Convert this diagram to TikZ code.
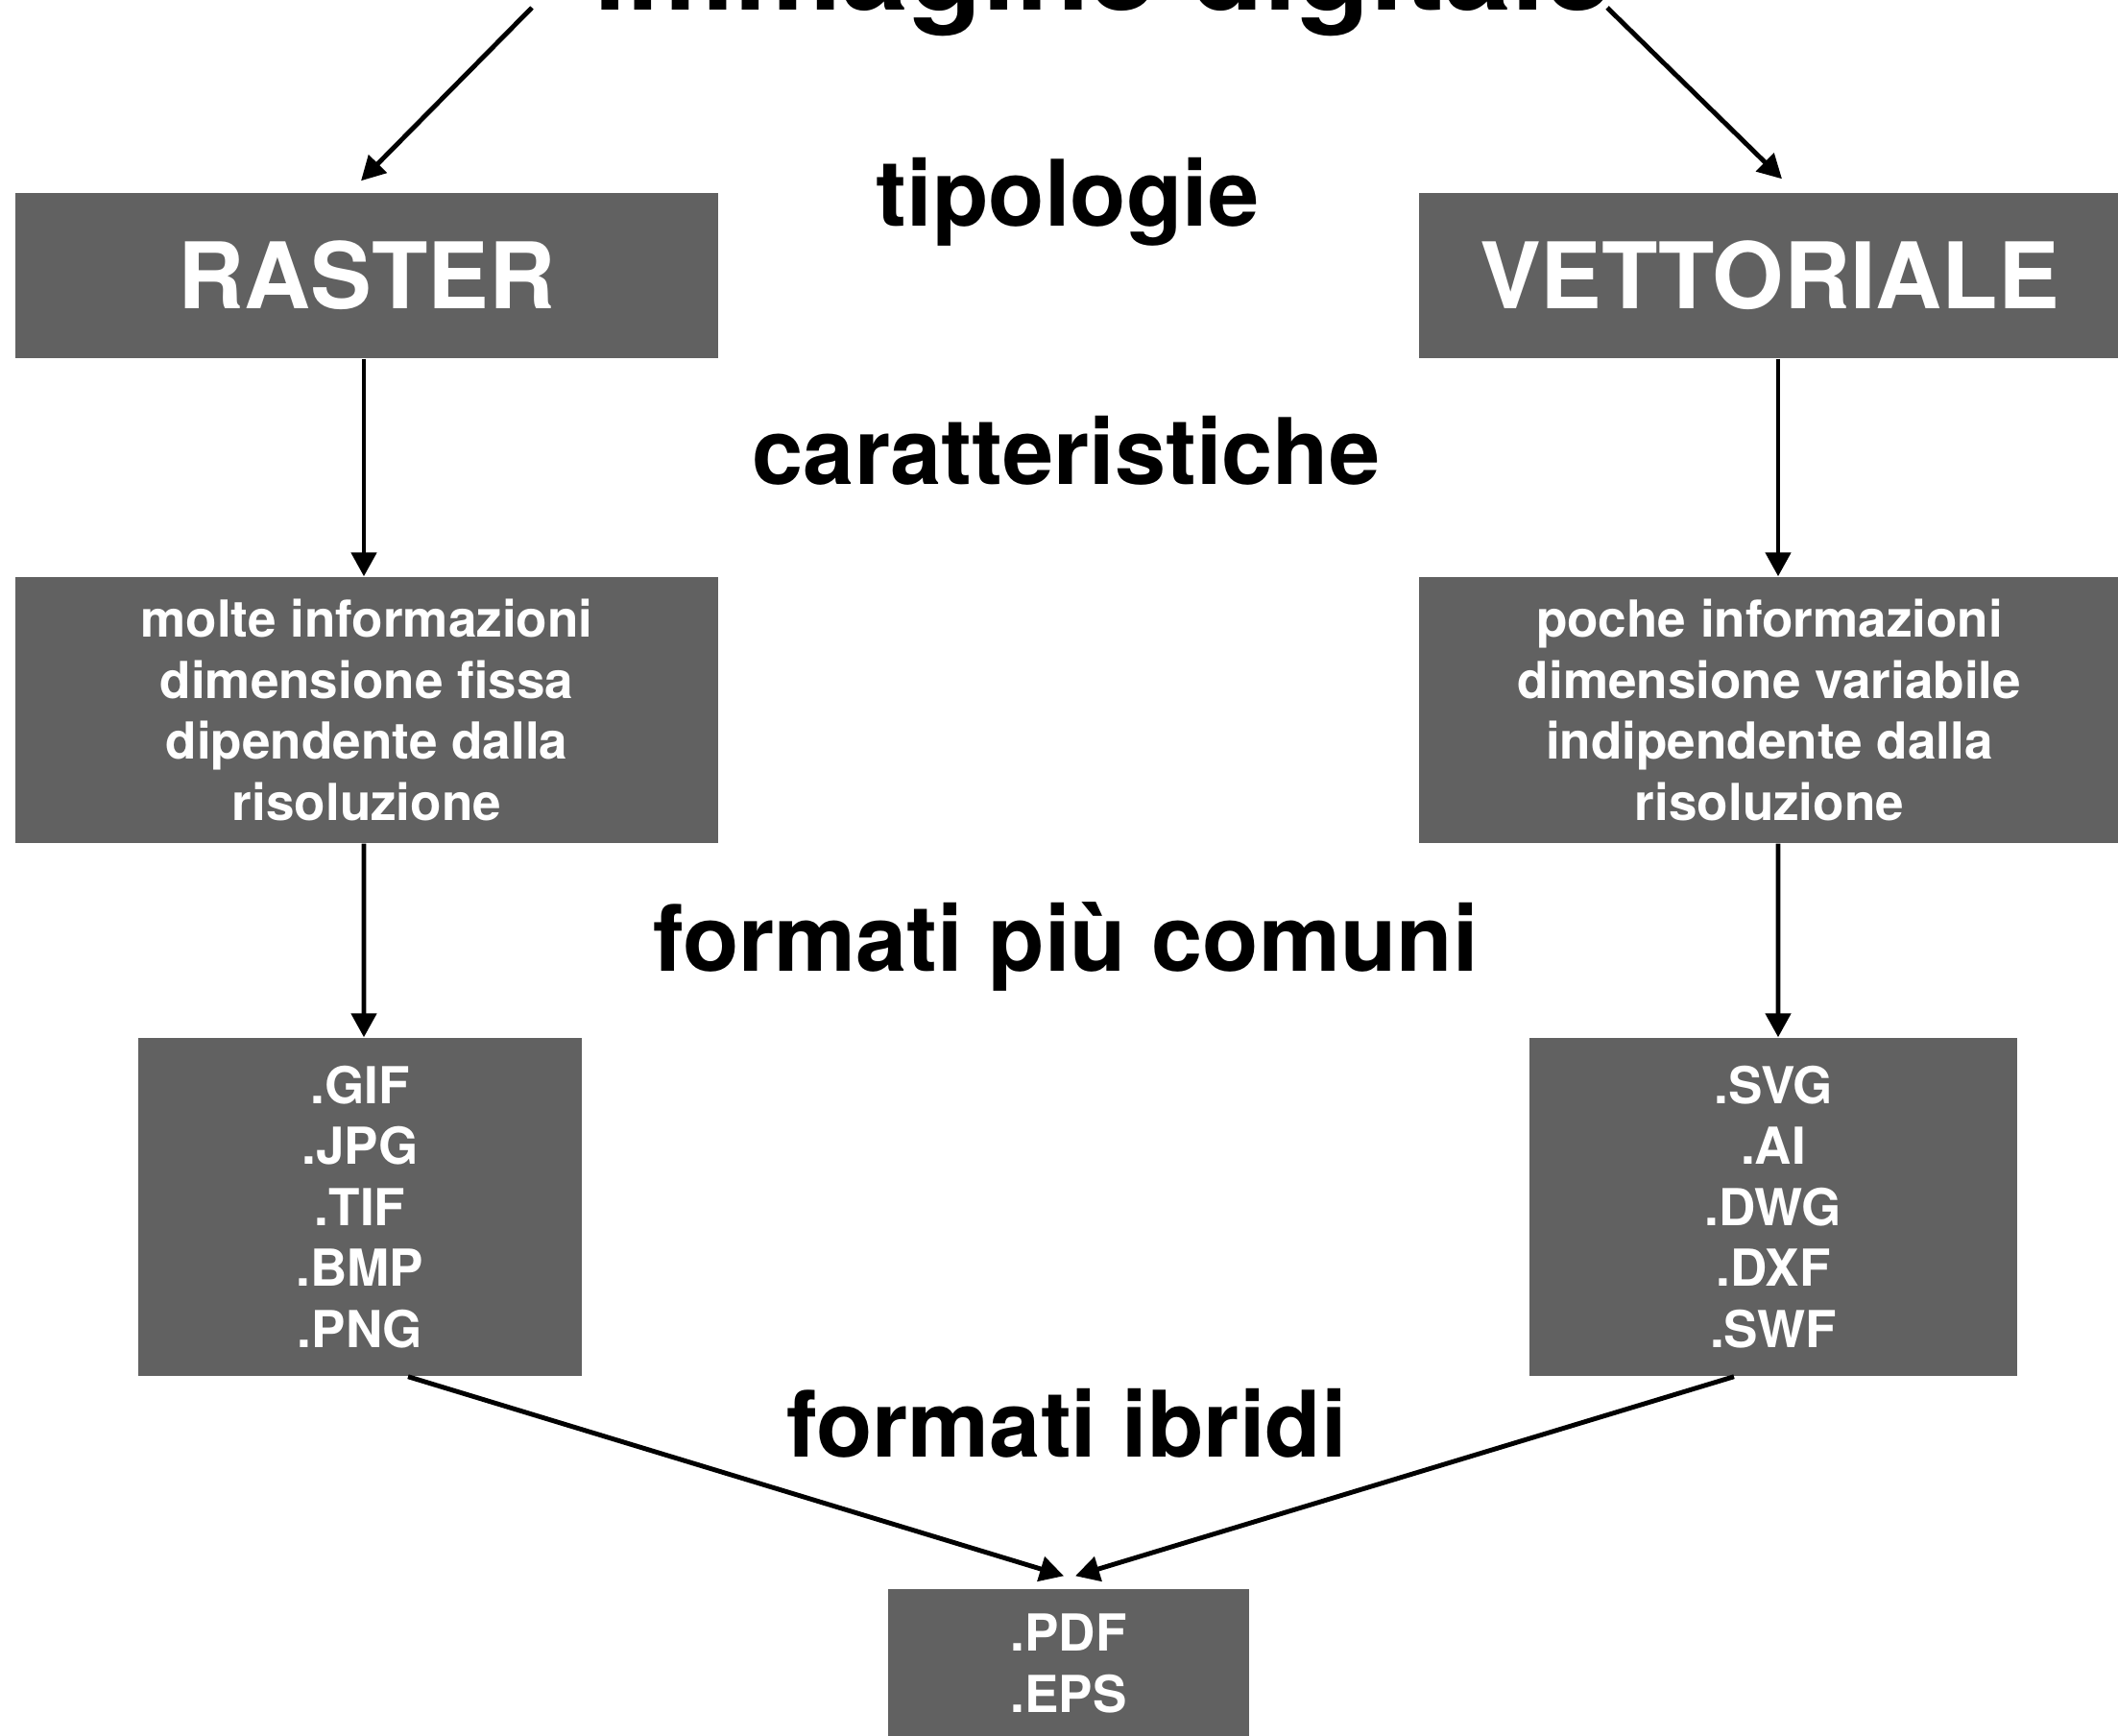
\documentclass[tikz,border=0pt]{standalone}
\usepackage{fontspec}
\setmainfont{TeX Gyre Heros}
\usetikzlibrary{arrows.meta}
\definecolor{boxgray}{RGB}{97,97,97}

\begin{document}
\begin{tikzpicture}[
    tipobox/.style={fill=boxgray, text=white, inner sep=0pt, minimum height=1.72cm,
        font=\bfseries\fontsize{27.2}{32}\selectfont},
    infobox/.style={fill=boxgray, text=white, inner sep=0pt, align=center,
        font=\bfseries\fontsize{15.1}{18.1}\selectfont},
    heading/.style={anchor=base, inner sep=0pt, font=\bfseries\fontsize{27.2}{32}\selectfont},
    arr/.style={-{Triangle[length=0.25cm,width=0.26cm]}, line width=1.4pt}
]
    \useasboundingbox (0,0) rectangle (22.06,-18.07);
    \clip (0,0) rectangle (22.06,-18.07);

    % titoli
    \node[heading, font=\bfseries\fontsize{35.7}{40}\selectfont] (title) at (11.49,-0.10) {immagine digitale};
    \node[heading] (tipo) at (11.12,-2.35) {tipologie};
    \node[heading] (caratt) at (11.105,-5.04) {caratteristiche};
    \node[heading] (comuni) at (11.10,-10.11) {formati più comuni};
    \node[heading] (ibridi) at (11.11,-15.17) {formati ibridi};

    % riquadri
    \node[tipobox, minimum width=7.32cm] (raster) at (3.82,-2.87) {RASTER};
    \node[tipobox, minimum width=7.30cm] (vett) at (18.43,-2.87) {VETTORIALE};
    \node[infobox, minimum width=7.32cm, minimum height=2.77cm] (rcar) at (3.82,-7.395)
        {molte informazioni\\dimensione fissa\\dipendente dalla\\risoluzione};
    \node[infobox, minimum width=7.30cm, minimum height=2.77cm] (vcar) at (18.43,-7.395)
        {poche informazioni\\dimensione variabile\\indipendente dalla\\risoluzione};
    \node[infobox, minimum width=4.62cm, minimum height=3.52cm] (rform) at (3.75,-12.57)
        {.GIF\\.JPG\\.TIF\\.BMP\\.PNG};
    \node[infobox, minimum width=5.08cm, minimum height=3.52cm] (vform) at (18.47,-12.57)
        {.SVG\\.AI\\.DWG\\.DXF\\.SWF};
    \node[infobox, minimum width=3.76cm, minimum height=1.55cm] (ibr) at (11.13,-17.325)
        {.PDF\\.EPS};

    % frecce
    \coordinate (tl) at (5.54,-0.08);
    \coordinate (tr) at (16.74,-0.08);
    \draw[arr] (tl) -- ([xshift=-0.06cm,yshift=0.12cm]raster.north);
    \draw[arr] (tr) -- ([xshift=0.13cm,yshift=0.14cm]vett.north);
    \draw[arr] ([xshift=-0.03cm]raster.south) -- ([xshift=-0.03cm]rcar.north);
    \draw[arr] ([xshift=0.09cm]vett.south) -- ([xshift=0.09cm]vcar.north);
    \draw[arr] ([xshift=-0.03cm]rcar.south) -- ([xshift=0.04cm]rform.north);
    \draw[arr] ([xshift=0.09cm]vcar.south) -- ([xshift=0.05cm]vform.north);
    \draw[arr] ([xshift=0.50cm]rform.south) -- ([xshift=-0.05cm,yshift=0.13cm]ibr.north);
    \draw[arr] ([xshift=-0.41cm]vform.south) -- ([xshift=0.07cm,yshift=0.13cm]ibr.north);
\end{tikzpicture}
\end{document}
